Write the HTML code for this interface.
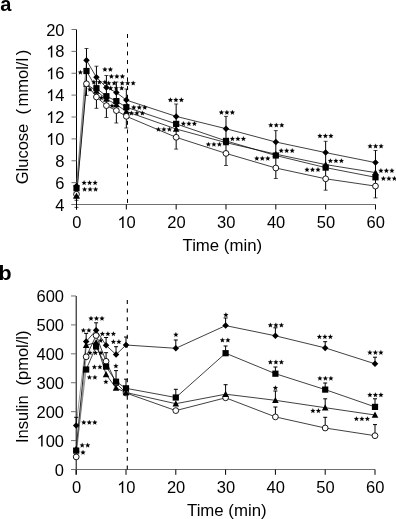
<!DOCTYPE html><html><head><meta charset="utf-8"><style>html,body{margin:0;padding:0;background:#fff;}svg{display:block;will-change:transform;}</style></head><body>
<svg width="396" height="519" viewBox="0 0 396 519" font-family='"Liberation Sans", sans-serif'>
<text x="0.2" y="11.0" font-size="20" font-weight="bold">a</text>
<text transform="translate(-1.6 280.0) scale(1.1 1)" font-size="19.5" font-weight="bold">b</text>
<g stroke="#000" stroke-width="1" fill="none"><path d="M76.5 29.5V209.5"/><path d="M71.5 204.5H375.5" stroke="#707070"/><path d="M71.5 204.50H76.5" stroke="#707070"/><path d="M71.5 182.62H76.5" stroke="#707070"/><path d="M71.5 160.75H76.5" stroke="#707070"/><path d="M71.5 138.88H76.5" stroke="#707070"/><path d="M71.5 117.00H76.5" stroke="#707070"/><path d="M71.5 95.12H76.5" stroke="#707070"/><path d="M71.5 73.25H76.5" stroke="#707070"/><path d="M71.5 51.38H76.5" stroke="#707070"/><path d="M71.5 29.50H76.5" stroke="#707070"/><path d="M76.50 204.5V209.5"/><path d="M126.33 204.5V209.5"/><path d="M176.16 204.5V209.5"/><path d="M225.99 204.5V209.5"/><path d="M275.82 204.5V209.5"/><path d="M325.65 204.5V209.5"/><path d="M375.48 204.5V209.5"/></g>
<text x="55.32" y="210.50" font-size="16.5">4</text>
<text x="55.32" y="188.62" font-size="16.5">6</text>
<text x="55.32" y="166.75" font-size="16.5">8</text>
<text x="46.15" y="144.88" font-size="16.5"> 0</text><path transform="translate(46.15 144.88) scale(0.00806 -0.00806)" d="M763 0H583V1147Q518 1085 412.5 1023T223 930V1104Q374 1175 487 1276T647 1472H763Z"/>
<text x="46.15" y="123.00" font-size="16.5"> 2</text><path transform="translate(46.15 123.00) scale(0.00806 -0.00806)" d="M763 0H583V1147Q518 1085 412.5 1023T223 930V1104Q374 1175 487 1276T647 1472H763Z"/>
<text x="46.15" y="101.12" font-size="16.5"> 4</text><path transform="translate(46.15 101.12) scale(0.00806 -0.00806)" d="M763 0H583V1147Q518 1085 412.5 1023T223 930V1104Q374 1175 487 1276T647 1472H763Z"/>
<text x="46.15" y="79.25" font-size="16.5"> 6</text><path transform="translate(46.15 79.25) scale(0.00806 -0.00806)" d="M763 0H583V1147Q518 1085 412.5 1023T223 930V1104Q374 1175 487 1276T647 1472H763Z"/>
<text x="46.15" y="57.38" font-size="16.5"> 8</text><path transform="translate(46.15 57.38) scale(0.00806 -0.00806)" d="M763 0H583V1147Q518 1085 412.5 1023T223 930V1104Q374 1175 487 1276T647 1472H763Z"/>
<text x="46.15" y="35.50" font-size="16.5">20</text>
<text x="72.21" y="228.00" font-size="16.5">0</text>
<text x="117.45" y="228.00" font-size="16.5"> 0</text><path transform="translate(117.45 228.00) scale(0.00806 -0.00806)" d="M763 0H583V1147Q518 1085 412.5 1023T223 930V1104Q374 1175 487 1276T647 1472H763Z"/>
<text x="167.28" y="228.00" font-size="16.5">20</text>
<text x="217.11" y="228.00" font-size="16.5">30</text>
<text x="266.94" y="228.00" font-size="16.5">40</text>
<text x="316.77" y="228.00" font-size="16.5">50</text>
<text x="366.60" y="228.00" font-size="16.5">60</text>
<text x="222.3" y="250.6" font-size="16.8" text-anchor="middle">Time (min)</text>
<text transform="translate(28.0 184.3) rotate(-90)" font-size="16.5">Glucose</text>
<text transform="translate(28.0 82.2) rotate(-90)" font-size="16.5" text-anchor="middle">(<tspan dx="2.6">mmol/l</tspan><tspan dx="2.6">)</tspan></text>
<path d="M127.5 34V203" stroke="#000" stroke-width="1" stroke-dasharray="4 4.68"/>
<g stroke="#000" stroke-width="1" fill="none"><path d="M76.2 296V474.5"/><path d="M71 469.5H375" stroke="#707070"/><path d="M71 469.50H76" stroke="#707070"/><path d="M71 440.58H76" stroke="#707070"/><path d="M71 411.66H76" stroke="#707070"/><path d="M71 382.74H76" stroke="#707070"/><path d="M71 353.82H76" stroke="#707070"/><path d="M71 324.90H76" stroke="#707070"/><path d="M71 295.98H76" stroke="#707070"/><path d="M76.20 469.5V474.8"/><path d="M126.00 469.5V474.8"/><path d="M175.80 469.5V474.8"/><path d="M225.60 469.5V474.8"/><path d="M275.40 469.5V474.8"/><path d="M325.20 469.5V474.8"/><path d="M375.00 469.5V474.8"/></g>
<text x="54.82" y="475.50" font-size="16.5">0</text>
<text x="36.47" y="446.58" font-size="16.5"> 00</text><path transform="translate(36.47 446.58) scale(0.00806 -0.00806)" d="M763 0H583V1147Q518 1085 412.5 1023T223 930V1104Q374 1175 487 1276T647 1472H763Z"/>
<text x="36.47" y="417.66" font-size="16.5">200</text>
<text x="36.47" y="388.74" font-size="16.5">300</text>
<text x="36.47" y="359.82" font-size="16.5">400</text>
<text x="36.47" y="330.90" font-size="16.5">500</text>
<text x="36.47" y="301.98" font-size="16.5">600</text>
<text x="71.91" y="493.00" font-size="16.5">0</text>
<text x="117.12" y="493.00" font-size="16.5"> 0</text><path transform="translate(117.12 493.00) scale(0.00806 -0.00806)" d="M763 0H583V1147Q518 1085 412.5 1023T223 930V1104Q374 1175 487 1276T647 1472H763Z"/>
<text x="166.92" y="493.00" font-size="16.5">20</text>
<text x="216.72" y="493.00" font-size="16.5">30</text>
<text x="266.52" y="493.00" font-size="16.5">40</text>
<text x="316.32" y="493.00" font-size="16.5">50</text>
<text x="366.12" y="493.00" font-size="16.5">60</text>
<text x="226.8" y="515.5" font-size="16.8" text-anchor="middle">Time (min)</text>
<text transform="translate(28.0 443.0) rotate(-90)" font-size="16.5">Insulin</text>
<text transform="translate(28.0 358.0) rotate(-90)" font-size="16.5" text-anchor="middle">(pmol/l)</text>
<path d="M127.3 299.9V469.5" stroke="#000" stroke-width="1.1" stroke-dasharray="4 4.71"/>
<polyline points="86.47,83.80 96.43,97.00 106.40,105.60 116.36,110.60 126.33,116.30 176.16,137.30 225.99,153.40 275.82,168.00 325.65,178.80 375.48,186.10" fill="none" stroke="#000" stroke-width="0.75"/><path d="M76.50 194.20L86.47 83.80" fill="none" stroke="#555" stroke-width="0.6"/><polyline points="86.47,84.00 96.43,91.00 106.40,99.00 116.36,104.50 126.33,111.50 176.16,129.00 225.99,142.60 275.82,154.20 325.65,164.60 375.48,172.60" fill="none" stroke="#000" stroke-width="0.75"/><path d="M76.50 195.80L86.47 84.00" fill="none" stroke="#000" stroke-width="0.85"/><polyline points="86.47,71.00 96.43,88.20 106.40,96.20 116.36,101.10 126.33,107.20 176.16,123.90 225.99,140.90 275.82,155.50 325.65,167.60 375.48,177.30" fill="none" stroke="#000" stroke-width="0.75"/><path d="M76.50 188.20L86.47 71.00" fill="none" stroke="#555" stroke-width="0.6"/><polyline points="86.47,60.30 96.43,77.30 106.40,87.40 116.36,92.50 126.33,100.10 176.16,116.40 225.99,128.70 275.82,142.00 325.65,152.60 375.48,162.60" fill="none" stroke="#000" stroke-width="0.75"/><path d="M76.50 186.00L86.47 60.30" fill="none" stroke="#555" stroke-width="0.6"/>
<path d="M76.50 200.30V207.40" stroke="#000" stroke-width="1" fill="none"/><path d="M74.50 200.30H78.50M74.50 207.40H78.50" stroke="#000" stroke-width="0.7" fill="none"/>
<path d="M86.47 48.50V95.40" stroke="#000" stroke-width="1" fill="none"/><path d="M84.47 48.50H88.47M84.47 95.40H88.47" stroke="#000" stroke-width="0.7" fill="none"/>
<path d="M96.43 66.20V108.30" stroke="#000" stroke-width="1" fill="none"/><path d="M94.43 66.20H98.43M94.43 108.30H98.43" stroke="#000" stroke-width="0.7" fill="none"/>
<path d="M106.40 75.50V117.50" stroke="#000" stroke-width="1" fill="none"/><path d="M104.40 75.50H108.40M104.40 117.50H108.40" stroke="#000" stroke-width="0.7" fill="none"/>
<path d="M116.36 82.00V123.00" stroke="#000" stroke-width="1" fill="none"/><path d="M114.36 82.00H118.36M114.36 123.00H118.36" stroke="#000" stroke-width="0.7" fill="none"/>
<path d="M126.33 89.00V128.00" stroke="#000" stroke-width="1" fill="none"/><path d="M124.33 89.00H128.33M124.33 128.00H128.33" stroke="#000" stroke-width="0.7" fill="none"/>
<path d="M176.16 104.00V149.10" stroke="#000" stroke-width="1" fill="none"/><path d="M174.16 104.00H178.16M174.16 149.10H178.16" stroke="#000" stroke-width="0.7" fill="none"/>
<path d="M225.99 116.40V165.50" stroke="#000" stroke-width="1" fill="none"/><path d="M223.99 116.40H227.99M223.99 165.50H227.99" stroke="#000" stroke-width="0.7" fill="none"/>
<path d="M275.82 130.60V178.50" stroke="#000" stroke-width="1" fill="none"/><path d="M273.82 130.60H277.82M273.82 178.50H277.82" stroke="#000" stroke-width="0.7" fill="none"/>
<path d="M325.65 141.30V190.20" stroke="#000" stroke-width="1" fill="none"/><path d="M323.65 141.30H327.65M323.65 190.20H327.65" stroke="#000" stroke-width="0.7" fill="none"/>
<path d="M375.48 150.50V197.90" stroke="#000" stroke-width="1" fill="none"/><path d="M373.48 150.50H377.48M373.48 197.90H377.48" stroke="#000" stroke-width="0.7" fill="none"/>
<path d="M76.50 192.40L79.80 198.50L73.20 198.50Z" fill="#000"/>
<path d="M86.47 80.60L89.77 86.70L83.17 86.70Z" fill="#000"/>
<path d="M96.43 87.60L99.73 93.70L93.13 93.70Z" fill="#000"/>
<path d="M106.40 95.60L109.70 101.70L103.10 101.70Z" fill="#000"/>
<path d="M116.36 101.10L119.66 107.20L113.06 107.20Z" fill="#000"/>
<path d="M126.33 108.10L129.63 114.20L123.03 114.20Z" fill="#000"/>
<path d="M176.16 125.60L179.46 131.70L172.86 131.70Z" fill="#000"/>
<path d="M225.99 139.20L229.29 145.30L222.69 145.30Z" fill="#000"/>
<path d="M275.82 150.80L279.12 156.90L272.52 156.90Z" fill="#000"/>
<path d="M325.65 161.20L328.95 167.30L322.35 167.30Z" fill="#000"/>
<path d="M375.48 169.20L378.78 175.30L372.18 175.30Z" fill="#000"/>
<circle cx="76.50" cy="194.20" r="2.9" fill="#fff" stroke="#000" stroke-width="0.9"/>
<circle cx="86.47" cy="83.80" r="2.9" fill="#fff" stroke="#000" stroke-width="0.9"/>
<circle cx="96.43" cy="97.00" r="2.9" fill="#fff" stroke="#000" stroke-width="0.9"/>
<circle cx="106.40" cy="105.60" r="2.9" fill="#fff" stroke="#000" stroke-width="0.9"/>
<circle cx="116.36" cy="110.60" r="2.9" fill="#fff" stroke="#000" stroke-width="0.9"/>
<circle cx="126.33" cy="116.30" r="2.9" fill="#fff" stroke="#000" stroke-width="0.9"/>
<circle cx="176.16" cy="137.30" r="2.9" fill="#fff" stroke="#000" stroke-width="0.9"/>
<circle cx="225.99" cy="153.40" r="2.9" fill="#fff" stroke="#000" stroke-width="0.9"/>
<circle cx="275.82" cy="168.00" r="2.9" fill="#fff" stroke="#000" stroke-width="0.9"/>
<circle cx="325.65" cy="178.80" r="2.9" fill="#fff" stroke="#000" stroke-width="0.9"/>
<circle cx="375.48" cy="186.10" r="2.9" fill="#fff" stroke="#000" stroke-width="0.9"/>
<rect x="73.40" y="185.10" width="6.20" height="6.20" fill="#000"/>
<rect x="83.37" y="67.90" width="6.20" height="6.20" fill="#000"/>
<rect x="93.33" y="85.10" width="6.20" height="6.20" fill="#000"/>
<rect x="103.30" y="93.10" width="6.20" height="6.20" fill="#000"/>
<rect x="113.26" y="98.00" width="6.20" height="6.20" fill="#000"/>
<rect x="123.23" y="104.10" width="6.20" height="6.20" fill="#000"/>
<rect x="173.06" y="120.80" width="6.20" height="6.20" fill="#000"/>
<rect x="222.89" y="137.80" width="6.20" height="6.20" fill="#000"/>
<rect x="272.72" y="152.40" width="6.20" height="6.20" fill="#000"/>
<rect x="322.55" y="164.50" width="6.20" height="6.20" fill="#000"/>
<rect x="372.38" y="174.20" width="6.20" height="6.20" fill="#000"/>
<path d="M76.50 182.75L79.75 186.00L76.50 189.25L73.25 186.00Z" fill="#000"/>
<path d="M86.47 57.05L89.72 60.30L86.47 63.55L83.22 60.30Z" fill="#000"/>
<path d="M96.43 74.05L99.68 77.30L96.43 80.55L93.18 77.30Z" fill="#000"/>
<path d="M106.40 84.15L109.65 87.40L106.40 90.65L103.15 87.40Z" fill="#000"/>
<path d="M116.36 89.25L119.61 92.50L116.36 95.75L113.11 92.50Z" fill="#000"/>
<path d="M126.33 96.85L129.58 100.10L126.33 103.35L123.08 100.10Z" fill="#000"/>
<path d="M176.16 113.15L179.41 116.40L176.16 119.65L172.91 116.40Z" fill="#000"/>
<path d="M225.99 125.45L229.24 128.70L225.99 131.95L222.74 128.70Z" fill="#000"/>
<path d="M275.82 138.75L279.07 142.00L275.82 145.25L272.57 142.00Z" fill="#000"/>
<path d="M325.65 149.35L328.90 152.60L325.65 155.85L322.40 152.60Z" fill="#000"/>
<path d="M375.48 159.35L378.73 162.60L375.48 165.85L372.23 162.60Z" fill="#000"/>
<path d="M76.50 192.40L79.80 198.50L73.20 198.50Z" fill="#000"/>
<path d="M80.40 69.90L81.08 71.52L82.83 71.66L81.49 72.81L81.90 74.51L80.40 73.60L78.90 74.51L79.31 72.81L77.97 71.66L79.72 71.52Z" fill="#000" stroke="#000" stroke-width="0.15"/>
<path d="M104.90 67.00L105.58 68.62L107.33 68.76L105.99 69.91L106.40 71.61L104.90 70.70L103.40 71.61L103.81 69.91L102.47 68.76L104.22 68.62ZM110.40 67.00L111.08 68.62L112.83 68.76L111.49 69.91L111.90 71.61L110.40 70.70L108.90 71.61L109.31 69.91L107.97 68.76L109.72 68.62Z" fill="#000" stroke="#000" stroke-width="0.15"/>
<path d="M111.40 74.00L112.08 75.62L113.83 75.76L112.49 76.91L112.90 78.61L111.40 77.70L109.90 78.61L110.31 76.91L108.97 75.76L110.72 75.62ZM116.90 74.00L117.58 75.62L119.33 75.76L117.99 76.91L118.40 78.61L116.90 77.70L115.40 78.61L115.81 76.91L114.47 75.76L116.22 75.62ZM122.40 74.00L123.08 75.62L124.83 75.76L123.49 76.91L123.90 78.61L122.40 77.70L120.90 78.61L121.31 76.91L119.97 75.76L121.72 75.62Z" fill="#000" stroke="#000" stroke-width="0.15"/>
<path d="M93.90 79.70L94.58 81.32L96.33 81.46L94.99 82.61L95.40 84.31L93.90 83.40L92.40 84.31L92.81 82.61L91.47 81.46L93.22 81.32ZM99.40 79.70L100.08 81.32L101.83 81.46L100.49 82.61L100.90 84.31L99.40 83.40L97.90 84.31L98.31 82.61L96.97 81.46L98.72 81.32ZM104.90 79.70L105.58 81.32L107.33 81.46L105.99 82.61L106.40 84.31L104.90 83.40L103.40 84.31L103.81 82.61L102.47 81.46L104.22 81.32Z" fill="#000" stroke="#000" stroke-width="0.15"/>
<path d="M108.70 80.70L109.38 82.32L111.13 82.46L109.79 83.61L110.20 85.31L108.70 84.40L107.20 85.31L107.61 83.61L106.27 82.46L108.02 82.32ZM114.20 80.70L114.88 82.32L116.63 82.46L115.29 83.61L115.70 85.31L114.20 84.40L112.70 85.31L113.11 83.61L111.77 82.46L113.52 82.32Z" fill="#000" stroke="#000" stroke-width="0.15"/>
<path d="M122.20 80.70L122.88 82.32L124.63 82.46L123.29 83.61L123.70 85.31L122.20 84.40L120.70 85.31L121.11 83.61L119.77 82.46L121.52 82.32ZM127.70 80.70L128.38 82.32L130.13 82.46L128.79 83.61L129.20 85.31L127.70 84.40L126.20 85.31L126.61 83.61L125.27 82.46L127.02 82.32ZM133.20 80.70L133.88 82.32L135.63 82.46L134.29 83.61L134.70 85.31L133.20 84.40L131.70 85.31L132.11 83.61L130.77 82.46L132.52 82.32Z" fill="#000" stroke="#000" stroke-width="0.15"/>
<path d="M89.90 87.00L90.58 88.62L92.33 88.76L90.99 89.91L91.40 91.61L89.90 90.70L88.40 91.61L88.81 89.91L87.47 88.76L89.22 88.62Z" fill="#000" stroke="#000" stroke-width="0.15"/>
<path d="M101.30 95.50L101.98 97.12L103.73 97.26L102.39 98.41L102.80 100.11L101.30 99.20L99.80 100.11L100.21 98.41L98.87 97.26L100.62 97.12Z" fill="#000" stroke="#000" stroke-width="0.15"/>
<path d="M112.00 103.40L112.68 105.02L114.43 105.16L113.09 106.31L113.50 108.01L112.00 107.10L110.50 108.01L110.91 106.31L109.57 105.16L111.32 105.02Z" fill="#000" stroke="#000" stroke-width="0.15"/>
<path d="M84.10 180.30L84.78 181.92L86.53 182.06L85.19 183.21L85.60 184.91L84.10 184.00L82.60 184.91L83.01 183.21L81.67 182.06L83.42 181.92ZM89.60 180.30L90.28 181.92L92.03 182.06L90.69 183.21L91.10 184.91L89.60 184.00L88.10 184.91L88.51 183.21L87.17 182.06L88.92 181.92ZM95.10 180.30L95.78 181.92L97.53 182.06L96.19 183.21L96.60 184.91L95.10 184.00L93.60 184.91L94.01 183.21L92.67 182.06L94.42 181.92Z" fill="#000" stroke="#000" stroke-width="0.15"/>
<path d="M84.60 186.90L85.28 188.52L87.03 188.66L85.69 189.81L86.10 191.51L84.60 190.60L83.10 191.51L83.51 189.81L82.17 188.66L83.92 188.52ZM90.10 186.90L90.78 188.52L92.53 188.66L91.19 189.81L91.60 191.51L90.10 190.60L88.60 191.51L89.01 189.81L87.67 188.66L89.42 188.52ZM95.60 186.90L96.28 188.52L98.03 188.66L96.69 189.81L97.10 191.51L95.60 190.60L94.10 191.51L94.51 189.81L93.17 188.66L94.92 188.52Z" fill="#000" stroke="#000" stroke-width="0.15"/>
<path d="M110.70 85.70L111.38 87.32L113.13 87.46L111.79 88.61L112.20 90.31L110.70 89.40L109.20 90.31L109.61 88.61L108.27 87.46L110.02 87.32ZM116.20 85.70L116.88 87.32L118.63 87.46L117.29 88.61L117.70 90.31L116.20 89.40L114.70 90.31L115.11 88.61L113.77 87.46L115.52 87.32ZM121.70 85.70L122.38 87.32L124.13 87.46L122.79 88.61L123.20 90.31L121.70 89.40L120.20 90.31L120.61 88.61L119.27 87.46L121.02 87.32Z" fill="#000" stroke="#000" stroke-width="0.15"/>
<path d="M133.80 105.00L134.48 106.62L136.23 106.76L134.89 107.91L135.30 109.61L133.80 108.70L132.30 109.61L132.71 107.91L131.37 106.76L133.12 106.62ZM139.30 105.00L139.98 106.62L141.73 106.76L140.39 107.91L140.80 109.61L139.30 108.70L137.80 109.61L138.21 107.91L136.87 106.76L138.62 106.62ZM144.80 105.00L145.48 106.62L147.23 106.76L145.89 107.91L146.30 109.61L144.80 108.70L143.30 109.61L143.71 107.91L142.37 106.76L144.12 106.62Z" fill="#000" stroke="#000" stroke-width="0.15"/>
<path d="M131.40 110.70L132.08 112.32L133.83 112.46L132.49 113.61L132.90 115.31L131.40 114.40L129.90 115.31L130.31 113.61L128.97 112.46L130.72 112.32ZM136.90 110.70L137.58 112.32L139.33 112.46L137.99 113.61L138.40 115.31L136.90 114.40L135.40 115.31L135.81 113.61L134.47 112.46L136.22 112.32ZM142.40 110.70L143.08 112.32L144.83 112.46L143.49 113.61L143.90 115.31L142.40 114.40L140.90 115.31L141.31 113.61L139.97 112.46L141.72 112.32Z" fill="#000" stroke="#000" stroke-width="0.15"/>
<path d="M170.40 97.50L171.08 99.12L172.83 99.26L171.49 100.41L171.90 102.11L170.40 101.20L168.90 102.11L169.31 100.41L167.97 99.26L169.72 99.12ZM175.90 97.50L176.58 99.12L178.33 99.26L176.99 100.41L177.40 102.11L175.90 101.20L174.40 102.11L174.81 100.41L173.47 99.26L175.22 99.12ZM181.40 97.50L182.08 99.12L183.83 99.26L182.49 100.41L182.90 102.11L181.40 101.20L179.90 102.11L180.31 100.41L178.97 99.26L180.72 99.12Z" fill="#000" stroke="#000" stroke-width="0.15"/>
<path d="M183.40 121.20L184.08 122.82L185.83 122.96L184.49 124.11L184.90 125.81L183.40 124.90L181.90 125.81L182.31 124.11L180.97 122.96L182.72 122.82ZM188.90 121.20L189.58 122.82L191.33 122.96L189.99 124.11L190.40 125.81L188.90 124.90L187.40 125.81L187.81 124.11L186.47 122.96L188.22 122.82ZM194.40 121.20L195.08 122.82L196.83 122.96L195.49 124.11L195.90 125.81L194.40 124.90L192.90 125.81L193.31 124.11L191.97 122.96L193.72 122.82Z" fill="#000" stroke="#000" stroke-width="0.15"/>
<path d="M158.40 126.90L159.08 128.52L160.83 128.66L159.49 129.81L159.90 131.51L158.40 130.60L156.90 131.51L157.31 129.81L155.97 128.66L157.72 128.52ZM163.90 126.90L164.58 128.52L166.33 128.66L164.99 129.81L165.40 131.51L163.90 130.60L162.40 131.51L162.81 129.81L161.47 128.66L163.22 128.52ZM169.40 126.90L170.08 128.52L171.83 128.66L170.49 129.81L170.90 131.51L169.40 130.60L167.90 131.51L168.31 129.81L166.97 128.66L168.72 128.52Z" fill="#000" stroke="#000" stroke-width="0.15"/>
<path d="M221.40 110.00L222.08 111.62L223.83 111.76L222.49 112.91L222.90 114.61L221.40 113.70L219.90 114.61L220.31 112.91L218.97 111.76L220.72 111.62ZM226.90 110.00L227.58 111.62L229.33 111.76L227.99 112.91L228.40 114.61L226.90 113.70L225.40 114.61L225.81 112.91L224.47 111.76L226.22 111.62ZM232.40 110.00L233.08 111.62L234.83 111.76L233.49 112.91L233.90 114.61L232.40 113.70L230.90 114.61L231.31 112.91L229.97 111.76L231.72 111.62Z" fill="#000" stroke="#000" stroke-width="0.15"/>
<path d="M232.40 136.30L233.08 137.92L234.83 138.06L233.49 139.21L233.90 140.91L232.40 140.00L230.90 140.91L231.31 139.21L229.97 138.06L231.72 137.92ZM237.90 136.30L238.58 137.92L240.33 138.06L238.99 139.21L239.40 140.91L237.90 140.00L236.40 140.91L236.81 139.21L235.47 138.06L237.22 137.92ZM243.40 136.30L244.08 137.92L245.83 138.06L244.49 139.21L244.90 140.91L243.40 140.00L241.90 140.91L242.31 139.21L240.97 138.06L242.72 137.92Z" fill="#000" stroke="#000" stroke-width="0.15"/>
<path d="M208.40 141.90L209.08 143.52L210.83 143.66L209.49 144.81L209.90 146.51L208.40 145.60L206.90 146.51L207.31 144.81L205.97 143.66L207.72 143.52ZM213.90 141.90L214.58 143.52L216.33 143.66L214.99 144.81L215.40 146.51L213.90 145.60L212.40 146.51L212.81 144.81L211.47 143.66L213.22 143.52ZM219.40 141.90L220.08 143.52L221.83 143.66L220.49 144.81L220.90 146.51L219.40 145.60L217.90 146.51L218.31 144.81L216.97 143.66L218.72 143.52Z" fill="#000" stroke="#000" stroke-width="0.15"/>
<path d="M270.80 122.70L271.48 124.32L273.23 124.46L271.89 125.61L272.30 127.31L270.80 126.40L269.30 127.31L269.71 125.61L268.37 124.46L270.12 124.32ZM276.30 122.70L276.98 124.32L278.73 124.46L277.39 125.61L277.80 127.31L276.30 126.40L274.80 127.31L275.21 125.61L273.87 124.46L275.62 124.32ZM281.80 122.70L282.48 124.32L284.23 124.46L282.89 125.61L283.30 127.31L281.80 126.40L280.30 127.31L280.71 125.61L279.37 124.46L281.12 124.32Z" fill="#000" stroke="#000" stroke-width="0.15"/>
<path d="M281.20 148.20L281.88 149.82L283.63 149.96L282.29 151.11L282.70 152.81L281.20 151.90L279.70 152.81L280.11 151.11L278.77 149.96L280.52 149.82ZM286.70 148.20L287.38 149.82L289.13 149.96L287.79 151.11L288.20 152.81L286.70 151.90L285.20 152.81L285.61 151.11L284.27 149.96L286.02 149.82ZM292.20 148.20L292.88 149.82L294.63 149.96L293.29 151.11L293.70 152.81L292.20 151.90L290.70 152.81L291.11 151.11L289.77 149.96L291.52 149.82Z" fill="#000" stroke="#000" stroke-width="0.15"/>
<path d="M256.80 156.00L257.48 157.62L259.23 157.76L257.89 158.91L258.30 160.61L256.80 159.70L255.30 160.61L255.71 158.91L254.37 157.76L256.12 157.62ZM262.30 156.00L262.98 157.62L264.73 157.76L263.39 158.91L263.80 160.61L262.30 159.70L260.80 160.61L261.21 158.91L259.87 157.76L261.62 157.62ZM267.80 156.00L268.48 157.62L270.23 157.76L268.89 158.91L269.30 160.61L267.80 159.70L266.30 160.61L266.71 158.91L265.37 157.76L267.12 157.62Z" fill="#000" stroke="#000" stroke-width="0.15"/>
<path d="M319.90 133.50L320.58 135.12L322.33 135.26L320.99 136.41L321.40 138.11L319.90 137.20L318.40 138.11L318.81 136.41L317.47 135.26L319.22 135.12ZM325.40 133.50L326.08 135.12L327.83 135.26L326.49 136.41L326.90 138.11L325.40 137.20L323.90 138.11L324.31 136.41L322.97 135.26L324.72 135.12ZM330.90 133.50L331.58 135.12L333.33 135.26L331.99 136.41L332.40 138.11L330.90 137.20L329.40 138.11L329.81 136.41L328.47 135.26L330.22 135.12Z" fill="#000" stroke="#000" stroke-width="0.15"/>
<path d="M330.40 158.40L331.08 160.02L332.83 160.16L331.49 161.31L331.90 163.01L330.40 162.10L328.90 163.01L329.31 161.31L327.97 160.16L329.72 160.02ZM335.90 158.40L336.58 160.02L338.33 160.16L336.99 161.31L337.40 163.01L335.90 162.10L334.40 163.01L334.81 161.31L333.47 160.16L335.22 160.02ZM341.40 158.40L342.08 160.02L343.83 160.16L342.49 161.31L342.90 163.01L341.40 162.10L339.90 163.01L340.31 161.31L338.97 160.16L340.72 160.02Z" fill="#000" stroke="#000" stroke-width="0.15"/>
<path d="M307.00 167.20L307.68 168.82L309.43 168.96L308.09 170.11L308.50 171.81L307.00 170.90L305.50 171.81L305.91 170.11L304.57 168.96L306.32 168.82ZM312.50 167.20L313.18 168.82L314.93 168.96L313.59 170.11L314.00 171.81L312.50 170.90L311.00 171.81L311.41 170.11L310.07 168.96L311.82 168.82ZM318.00 167.20L318.68 168.82L320.43 168.96L319.09 170.11L319.50 171.81L318.00 170.90L316.50 171.81L316.91 170.11L315.57 168.96L317.32 168.82Z" fill="#000" stroke="#000" stroke-width="0.15"/>
<path d="M370.10 143.70L370.78 145.32L372.53 145.46L371.19 146.61L371.60 148.31L370.10 147.40L368.60 148.31L369.01 146.61L367.67 145.46L369.42 145.32ZM375.60 143.70L376.28 145.32L378.03 145.46L376.69 146.61L377.10 148.31L375.60 147.40L374.10 148.31L374.51 146.61L373.17 145.46L374.92 145.32ZM381.10 143.70L381.78 145.32L383.53 145.46L382.19 146.61L382.60 148.31L381.10 147.40L379.60 148.31L380.01 146.61L378.67 145.46L380.42 145.32Z" fill="#000" stroke="#000" stroke-width="0.15"/>
<path d="M380.90 168.20L381.58 169.82L383.33 169.96L381.99 171.11L382.40 172.81L380.90 171.90L379.40 172.81L379.81 171.11L378.47 169.96L380.22 169.82ZM386.40 168.20L387.08 169.82L388.83 169.96L387.49 171.11L387.90 172.81L386.40 171.90L384.90 172.81L385.31 171.11L383.97 169.96L385.72 169.82ZM391.90 168.20L392.58 169.82L394.33 169.96L392.99 171.11L393.40 172.81L391.90 171.90L390.40 172.81L390.81 171.11L389.47 169.96L391.22 169.82Z" fill="#000" stroke="#000" stroke-width="0.15"/>
<path d="M383.40 176.10L384.08 177.72L385.83 177.86L384.49 179.01L384.90 180.71L383.40 179.80L381.90 180.71L382.31 179.01L380.97 177.86L382.72 177.72ZM388.90 176.10L389.58 177.72L391.33 177.86L389.99 179.01L390.40 180.71L388.90 179.80L387.40 180.71L387.81 179.01L386.47 177.86L388.22 177.72ZM394.40 176.10L395.08 177.72L396.83 177.86L395.49 179.01L395.90 180.71L394.40 179.80L392.90 180.71L393.31 179.01L391.97 177.86L393.72 177.72Z" fill="#000" stroke="#000" stroke-width="0.15"/>
<polyline points="86.16,356.80 96.12,335.50 106.08,361.30 116.04,383.00 126.00,393.00 175.80,410.60 225.60,397.80 275.40,416.90 325.20,428.00 375.00,435.70" fill="none" stroke="#000" stroke-width="0.75"/><path d="M76.20 456.90L86.16 356.80" fill="none" stroke="#555" stroke-width="0.6"/><polyline points="86.16,345.40 96.12,342.40 106.08,374.50 116.04,388.00 126.00,392.50 175.80,403.70 225.60,394.20 275.40,400.30 325.20,407.70 375.00,415.00" fill="none" stroke="#000" stroke-width="0.75"/><path d="M76.20 449.00L86.16 345.40" fill="none" stroke="#000" stroke-width="0.85"/><polyline points="86.16,369.50 96.12,346.50 106.08,366.60 116.04,381.70 126.00,388.30 175.80,397.50 225.60,353.20 275.40,373.70 325.20,389.60 375.00,406.90" fill="none" stroke="#000" stroke-width="0.75"/><path d="M76.20 450.60L86.16 369.50" fill="none" stroke="#555" stroke-width="0.6"/><polyline points="86.16,341.50 96.12,330.20 106.08,345.30 116.04,354.60 126.00,345.00 175.80,348.30 225.60,325.60 275.40,335.80 325.20,347.90 375.00,363.80" fill="none" stroke="#000" stroke-width="0.75"/><path d="M76.20 425.40L86.16 341.50" fill="none" stroke="#555" stroke-width="0.6"/>
<path d="M86.16 341.50V333.40M84.16 333.40H88.16" stroke="#000" stroke-width="1" fill="none"/>
<path d="M96.12 330.20V322.80M94.12 322.80H98.12" stroke="#000" stroke-width="1" fill="none"/>
<path d="M106.08 345.30V337.50M104.08 337.50H108.08" stroke="#000" stroke-width="1" fill="none"/>
<path d="M116.04 354.60V346.70M114.04 346.70H118.04" stroke="#000" stroke-width="1" fill="none"/>
<path d="M126.00 345.00V337.00M124.00 337.00H128.00" stroke="#000" stroke-width="1" fill="none"/>
<path d="M175.80 348.30V340.00M173.80 340.00H177.80" stroke="#000" stroke-width="1" fill="none"/>
<path d="M225.60 325.60V318.00M223.60 318.00H227.60" stroke="#000" stroke-width="1" fill="none"/>
<path d="M275.40 335.80V327.80M273.40 327.80H277.40" stroke="#000" stroke-width="1" fill="none"/>
<path d="M325.20 347.90V341.70M323.20 341.70H327.20" stroke="#000" stroke-width="1" fill="none"/>
<path d="M375.00 363.80V357.20M373.00 357.20H377.00" stroke="#000" stroke-width="1" fill="none"/>
<path d="M225.60 353.20V346.00M223.60 346.00H227.60" stroke="#000" stroke-width="1" fill="none"/>
<path d="M275.40 373.70V367.00M273.40 367.00H277.40" stroke="#000" stroke-width="1" fill="none"/>
<path d="M325.20 389.60V383.00M323.20 383.00H327.20" stroke="#000" stroke-width="1" fill="none"/>
<path d="M375.00 406.90V398.80M373.00 398.80H377.00" stroke="#000" stroke-width="1" fill="none"/>
<path d="M175.80 397.50V389.30M173.80 389.30H177.80" stroke="#000" stroke-width="1" fill="none"/>
<path d="M275.40 400.30V391.00M273.40 391.00H277.40" stroke="#000" stroke-width="1" fill="none"/>
<path d="M325.20 407.70V398.80M323.20 398.80H327.20" stroke="#000" stroke-width="1" fill="none"/>
<path d="M225.60 394.20V384.70M223.60 384.70H227.60" stroke="#000" stroke-width="1" fill="none"/>
<path d="M275.40 416.90V407.00M273.40 407.00H277.40" stroke="#000" stroke-width="1" fill="none"/>
<path d="M325.20 428.00V417.30M323.20 417.30H327.20" stroke="#000" stroke-width="1" fill="none"/>
<path d="M375.00 435.70V424.60M373.00 424.60H377.00" stroke="#000" stroke-width="1" fill="none"/>
<path d="M116.04 381.70V370.60M114.04 370.60H118.04" stroke="#000" stroke-width="1" fill="none"/>
<path d="M126.00 388.30V379.20M124.00 379.20H128.00" stroke="#000" stroke-width="1" fill="none"/>
<path d="M106.08 361.30V352.70M104.08 352.70H108.08" stroke="#000" stroke-width="1" fill="none"/>
<path d="M76.20 425.40V417.30M74.20 417.30H78.20" stroke="#000" stroke-width="1" fill="none"/>
<circle cx="76.20" cy="456.90" r="2.9" fill="#fff" stroke="#000" stroke-width="0.9"/>
<circle cx="86.16" cy="356.80" r="2.9" fill="#fff" stroke="#000" stroke-width="0.9"/>
<circle cx="96.12" cy="335.50" r="2.9" fill="#fff" stroke="#000" stroke-width="0.9"/>
<circle cx="106.08" cy="361.30" r="2.9" fill="#fff" stroke="#000" stroke-width="0.9"/>
<circle cx="116.04" cy="383.00" r="2.9" fill="#fff" stroke="#000" stroke-width="0.9"/>
<circle cx="126.00" cy="393.00" r="2.9" fill="#fff" stroke="#000" stroke-width="0.9"/>
<circle cx="175.80" cy="410.60" r="2.9" fill="#fff" stroke="#000" stroke-width="0.9"/>
<circle cx="225.60" cy="397.80" r="2.9" fill="#fff" stroke="#000" stroke-width="0.9"/>
<circle cx="275.40" cy="416.90" r="2.9" fill="#fff" stroke="#000" stroke-width="0.9"/>
<circle cx="325.20" cy="428.00" r="2.9" fill="#fff" stroke="#000" stroke-width="0.9"/>
<circle cx="375.00" cy="435.70" r="2.9" fill="#fff" stroke="#000" stroke-width="0.9"/>
<path d="M76.20 445.60L79.50 451.70L72.90 451.70Z" fill="#000"/>
<path d="M86.16 342.00L89.46 348.10L82.86 348.10Z" fill="#000"/>
<path d="M96.12 339.00L99.42 345.10L92.82 345.10Z" fill="#000"/>
<path d="M106.08 371.10L109.38 377.20L102.78 377.20Z" fill="#000"/>
<path d="M116.04 384.60L119.34 390.70L112.74 390.70Z" fill="#000"/>
<path d="M126.00 389.10L129.30 395.20L122.70 395.20Z" fill="#000"/>
<path d="M175.80 400.30L179.10 406.40L172.50 406.40Z" fill="#000"/>
<path d="M225.60 390.80L228.90 396.90L222.30 396.90Z" fill="#000"/>
<path d="M275.40 396.90L278.70 403.00L272.10 403.00Z" fill="#000"/>
<path d="M325.20 404.30L328.50 410.40L321.90 410.40Z" fill="#000"/>
<path d="M375.00 411.60L378.30 417.70L371.70 417.70Z" fill="#000"/>
<rect x="73.10" y="447.50" width="6.20" height="6.20" fill="#000"/>
<rect x="83.06" y="366.40" width="6.20" height="6.20" fill="#000"/>
<rect x="93.02" y="343.40" width="6.20" height="6.20" fill="#000"/>
<rect x="102.98" y="363.50" width="6.20" height="6.20" fill="#000"/>
<rect x="112.94" y="378.60" width="6.20" height="6.20" fill="#000"/>
<rect x="122.90" y="385.20" width="6.20" height="6.20" fill="#000"/>
<rect x="172.70" y="394.40" width="6.20" height="6.20" fill="#000"/>
<rect x="222.50" y="350.10" width="6.20" height="6.20" fill="#000"/>
<rect x="272.30" y="370.60" width="6.20" height="6.20" fill="#000"/>
<rect x="322.10" y="386.50" width="6.20" height="6.20" fill="#000"/>
<rect x="371.90" y="403.80" width="6.20" height="6.20" fill="#000"/>
<path d="M76.20 422.15L79.45 425.40L76.20 428.65L72.95 425.40Z" fill="#000"/>
<path d="M86.16 338.25L89.41 341.50L86.16 344.75L82.91 341.50Z" fill="#000"/>
<path d="M96.12 326.95L99.37 330.20L96.12 333.45L92.87 330.20Z" fill="#000"/>
<path d="M106.08 342.05L109.33 345.30L106.08 348.55L102.83 345.30Z" fill="#000"/>
<path d="M116.04 351.35L119.29 354.60L116.04 357.85L112.79 354.60Z" fill="#000"/>
<path d="M126.00 341.75L129.25 345.00L126.00 348.25L122.75 345.00Z" fill="#000"/>
<path d="M175.80 345.05L179.05 348.30L175.80 351.55L172.55 348.30Z" fill="#000"/>
<path d="M225.60 322.35L228.85 325.60L225.60 328.85L222.35 325.60Z" fill="#000"/>
<path d="M275.40 332.55L278.65 335.80L275.40 339.05L272.15 335.80Z" fill="#000"/>
<path d="M325.20 344.65L328.45 347.90L325.20 351.15L321.95 347.90Z" fill="#000"/>
<path d="M375.00 360.55L378.25 363.80L375.00 367.05L371.75 363.80Z" fill="#000"/>
<path d="M83.40 327.90L84.08 329.52L85.83 329.66L84.49 330.81L84.90 332.51L83.40 331.60L81.90 332.51L82.31 330.81L80.97 329.66L82.72 329.52ZM88.90 327.90L89.58 329.52L91.33 329.66L89.99 330.81L90.40 332.51L88.90 331.60L87.40 332.51L87.81 330.81L86.47 329.66L88.22 329.52Z" fill="#000" stroke="#000" stroke-width="0.15"/>
<path d="M91.00 316.00L91.68 317.62L93.43 317.76L92.09 318.91L92.50 320.61L91.00 319.70L89.50 320.61L89.91 318.91L88.57 317.76L90.32 317.62ZM96.50 316.00L97.18 317.62L98.93 317.76L97.59 318.91L98.00 320.61L96.50 319.70L95.00 320.61L95.41 318.91L94.07 317.76L95.82 317.62ZM102.00 316.00L102.68 317.62L104.43 317.76L103.09 318.91L103.50 320.61L102.00 319.70L100.50 320.61L100.91 318.91L99.57 317.76L101.32 317.62Z" fill="#000" stroke="#000" stroke-width="0.15"/>
<path d="M102.40 331.40L103.08 333.02L104.83 333.16L103.49 334.31L103.90 336.01L102.40 335.10L100.90 336.01L101.31 334.31L99.97 333.16L101.72 333.02ZM107.90 331.40L108.58 333.02L110.33 333.16L108.99 334.31L109.40 336.01L107.90 335.10L106.40 336.01L106.81 334.31L105.47 333.16L107.22 333.02ZM113.40 331.40L114.08 333.02L115.83 333.16L114.49 334.31L114.90 336.01L113.40 335.10L111.90 336.01L112.31 334.31L110.97 333.16L112.72 333.02Z" fill="#000" stroke="#000" stroke-width="0.15"/>
<path d="M113.40 339.30L114.08 340.92L115.83 341.06L114.49 342.21L114.90 343.91L113.40 343.00L111.90 343.91L112.31 342.21L110.97 341.06L112.72 340.92ZM118.90 339.30L119.58 340.92L121.33 341.06L119.99 342.21L120.40 343.91L118.90 343.00L117.40 343.91L117.81 342.21L116.47 341.06L118.22 340.92Z" fill="#000" stroke="#000" stroke-width="0.15"/>
<path d="M100.70 338.10L101.38 339.72L103.13 339.86L101.79 341.01L102.20 342.71L100.70 341.80L99.20 342.71L99.61 341.01L98.27 339.86L100.02 339.72Z" fill="#000" stroke="#000" stroke-width="0.15"/>
<path d="M90.00 350.40L90.68 352.02L92.43 352.16L91.09 353.31L91.50 355.01L90.00 354.10L88.50 355.01L88.91 353.31L87.57 352.16L89.32 352.02ZM95.50 350.40L96.18 352.02L97.93 352.16L96.59 353.31L97.00 355.01L95.50 354.10L94.00 355.01L94.41 353.31L93.07 352.16L94.82 352.02ZM101.00 350.40L101.68 352.02L103.43 352.16L102.09 353.31L102.50 355.01L101.00 354.10L99.50 355.01L99.91 353.31L98.57 352.16L100.32 352.02Z" fill="#000" stroke="#000" stroke-width="0.15"/>
<path d="M94.40 364.60L95.08 366.22L96.83 366.36L95.49 367.51L95.90 369.21L94.40 368.30L92.90 369.21L93.31 367.51L91.97 366.36L93.72 366.22ZM99.90 364.60L100.58 366.22L102.33 366.36L100.99 367.51L101.40 369.21L99.90 368.30L98.40 369.21L98.81 367.51L97.47 366.36L99.22 366.22Z" fill="#000" stroke="#000" stroke-width="0.15"/>
<path d="M89.40 374.90L90.08 376.52L91.83 376.66L90.49 377.81L90.90 379.51L89.40 378.60L87.90 379.51L88.31 377.81L86.97 376.66L88.72 376.52ZM94.90 374.90L95.58 376.52L97.33 376.66L95.99 377.81L96.40 379.51L94.90 378.60L93.40 379.51L93.81 377.81L92.47 376.66L94.22 376.52Z" fill="#000" stroke="#000" stroke-width="0.15"/>
<path d="M105.90 379.40L106.58 381.02L108.33 381.16L106.99 382.31L107.40 384.01L105.90 383.10L104.40 384.01L104.81 382.31L103.47 381.16L105.22 381.02Z" fill="#000" stroke="#000" stroke-width="0.15"/>
<path d="M115.90 363.60L116.58 365.22L118.33 365.36L116.99 366.51L117.40 368.21L115.90 367.30L114.40 368.21L114.81 366.51L113.47 365.36L115.22 365.22Z" fill="#000" stroke="#000" stroke-width="0.15"/>
<path d="M83.80 420.00L84.48 421.62L86.23 421.76L84.89 422.91L85.30 424.61L83.80 423.70L82.30 424.61L82.71 422.91L81.37 421.76L83.12 421.62ZM89.30 420.00L89.98 421.62L91.73 421.76L90.39 422.91L90.80 424.61L89.30 423.70L87.80 424.61L88.21 422.91L86.87 421.76L88.62 421.62ZM94.80 420.00L95.48 421.62L97.23 421.76L95.89 422.91L96.30 424.61L94.80 423.70L93.30 424.61L93.71 422.91L92.37 421.76L94.12 421.62Z" fill="#000" stroke="#000" stroke-width="0.15"/>
<path d="M82.20 442.80L82.88 444.42L84.63 444.56L83.29 445.71L83.70 447.41L82.20 446.50L80.70 447.41L81.11 445.71L79.77 444.56L81.52 444.42ZM87.70 442.80L88.38 444.42L90.13 444.56L88.79 445.71L89.20 447.41L87.70 446.50L86.20 447.41L86.61 445.71L85.27 444.56L87.02 444.42Z" fill="#000" stroke="#000" stroke-width="0.15"/>
<path d="M83.00 450.00L83.68 451.62L85.43 451.76L84.09 452.91L84.50 454.61L83.00 453.70L81.50 454.61L81.91 452.91L80.57 451.76L82.32 451.62Z" fill="#000" stroke="#000" stroke-width="0.15"/>
<path d="M175.90 332.20L176.58 333.82L178.33 333.96L176.99 335.11L177.40 336.81L175.90 335.90L174.40 336.81L174.81 335.11L173.47 333.96L175.22 333.82Z" fill="#000" stroke="#000" stroke-width="0.15"/>
<path d="M225.90 312.50L226.58 314.12L228.33 314.26L226.99 315.41L227.40 317.11L225.90 316.20L224.40 317.11L224.81 315.41L223.47 314.26L225.22 314.12Z" fill="#000" stroke="#000" stroke-width="0.15"/>
<path d="M222.40 337.70L223.08 339.32L224.83 339.46L223.49 340.61L223.90 342.31L222.40 341.40L220.90 342.31L221.31 340.61L219.97 339.46L221.72 339.32ZM227.90 337.70L228.58 339.32L230.33 339.46L228.99 340.61L229.40 342.31L227.90 341.40L226.40 342.31L226.81 340.61L225.47 339.46L227.22 339.32Z" fill="#000" stroke="#000" stroke-width="0.15"/>
<path d="M270.40 322.70L271.08 324.32L272.83 324.46L271.49 325.61L271.90 327.31L270.40 326.40L268.90 327.31L269.31 325.61L267.97 324.46L269.72 324.32ZM275.90 322.70L276.58 324.32L278.33 324.46L276.99 325.61L277.40 327.31L275.90 326.40L274.40 327.31L274.81 325.61L273.47 324.46L275.22 324.32ZM281.40 322.70L282.08 324.32L283.83 324.46L282.49 325.61L282.90 327.31L281.40 326.40L279.90 327.31L280.31 325.61L278.97 324.46L280.72 324.32Z" fill="#000" stroke="#000" stroke-width="0.15"/>
<path d="M270.40 359.70L271.08 361.32L272.83 361.46L271.49 362.61L271.90 364.31L270.40 363.40L268.90 364.31L269.31 362.61L267.97 361.46L269.72 361.32ZM275.90 359.70L276.58 361.32L278.33 361.46L276.99 362.61L277.40 364.31L275.90 363.40L274.40 364.31L274.81 362.61L273.47 361.46L275.22 361.32ZM281.40 359.70L282.08 361.32L283.83 361.46L282.49 362.61L282.90 364.31L281.40 363.40L279.90 364.31L280.31 362.61L278.97 361.46L280.72 361.32Z" fill="#000" stroke="#000" stroke-width="0.15"/>
<path d="M275.40 385.50L276.08 387.12L277.83 387.26L276.49 388.41L276.90 390.11L275.40 389.20L273.90 390.11L274.31 388.41L272.97 387.26L274.72 387.12Z" fill="#000" stroke="#000" stroke-width="0.15"/>
<path d="M319.40 334.30L320.08 335.92L321.83 336.06L320.49 337.21L320.90 338.91L319.40 338.00L317.90 338.91L318.31 337.21L316.97 336.06L318.72 335.92ZM324.90 334.30L325.58 335.92L327.33 336.06L325.99 337.21L326.40 338.91L324.90 338.00L323.40 338.91L323.81 337.21L322.47 336.06L324.22 335.92ZM330.40 334.30L331.08 335.92L332.83 336.06L331.49 337.21L331.90 338.91L330.40 338.00L328.90 338.91L329.31 337.21L327.97 336.06L329.72 335.92Z" fill="#000" stroke="#000" stroke-width="0.15"/>
<path d="M319.90 375.90L320.58 377.52L322.33 377.66L320.99 378.81L321.40 380.51L319.90 379.60L318.40 380.51L318.81 378.81L317.47 377.66L319.22 377.52ZM325.40 375.90L326.08 377.52L327.83 377.66L326.49 378.81L326.90 380.51L325.40 379.60L323.90 380.51L324.31 378.81L322.97 377.66L324.72 377.52ZM330.90 375.90L331.58 377.52L333.33 377.66L331.99 378.81L332.40 380.51L330.90 379.60L329.40 380.51L329.81 378.81L328.47 377.66L330.22 377.52Z" fill="#000" stroke="#000" stroke-width="0.15"/>
<path d="M312.90 408.30L313.58 409.92L315.33 410.06L313.99 411.21L314.40 412.91L312.90 412.00L311.40 412.91L311.81 411.21L310.47 410.06L312.22 409.92ZM318.40 408.30L319.08 409.92L320.83 410.06L319.49 411.21L319.90 412.91L318.40 412.00L316.90 412.91L317.31 411.21L315.97 410.06L317.72 409.92Z" fill="#000" stroke="#000" stroke-width="0.15"/>
<path d="M369.90 350.10L370.58 351.72L372.33 351.86L370.99 353.01L371.40 354.71L369.90 353.80L368.40 354.71L368.81 353.01L367.47 351.86L369.22 351.72ZM375.40 350.10L376.08 351.72L377.83 351.86L376.49 353.01L376.90 354.71L375.40 353.80L373.90 354.71L374.31 353.01L372.97 351.86L374.72 351.72ZM380.90 350.10L381.58 351.72L383.33 351.86L381.99 353.01L382.40 354.71L380.90 353.80L379.40 354.71L379.81 353.01L378.47 351.86L380.22 351.72Z" fill="#000" stroke="#000" stroke-width="0.15"/>
<path d="M369.90 392.50L370.58 394.12L372.33 394.26L370.99 395.41L371.40 397.11L369.90 396.20L368.40 397.11L368.81 395.41L367.47 394.26L369.22 394.12ZM375.40 392.50L376.08 394.12L377.83 394.26L376.49 395.41L376.90 397.11L375.40 396.20L373.90 397.11L374.31 395.41L372.97 394.26L374.72 394.12ZM380.90 392.50L381.58 394.12L383.33 394.26L381.99 395.41L382.40 397.11L380.90 396.20L379.40 397.11L379.81 395.41L378.47 394.26L380.22 394.12Z" fill="#000" stroke="#000" stroke-width="0.15"/>
<path d="M356.40 416.40L357.08 418.02L358.83 418.16L357.49 419.31L357.90 421.01L356.40 420.10L354.90 421.01L355.31 419.31L353.97 418.16L355.72 418.02ZM361.90 416.40L362.58 418.02L364.33 418.16L362.99 419.31L363.40 421.01L361.90 420.10L360.40 421.01L360.81 419.31L359.47 418.16L361.22 418.02ZM367.40 416.40L368.08 418.02L369.83 418.16L368.49 419.31L368.90 421.01L367.40 420.10L365.90 421.01L366.31 419.31L364.97 418.16L366.72 418.02Z" fill="#000" stroke="#000" stroke-width="0.15"/>
</svg></body></html>
